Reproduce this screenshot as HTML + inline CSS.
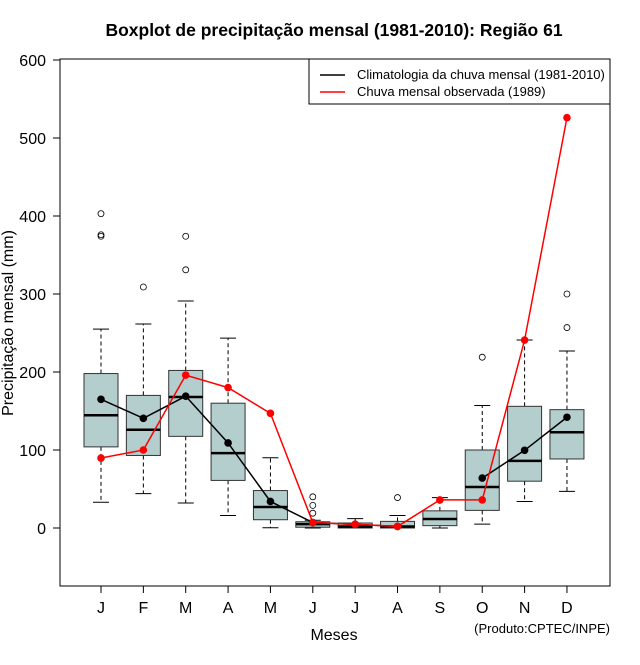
<!DOCTYPE html>
<html><head><meta charset="utf-8"><style>
body{margin:0;background:#fff;}
svg text{font-family:"Liberation Sans",Arial,sans-serif;}
</style></head><body>
<svg id="chart" width="640" height="660" xmlns="http://www.w3.org/2000/svg">
<text x="334" y="36" font-size="17.5" font-weight="bold" text-anchor="middle">Boxplot de precipitação mensal (1981-2010): Região 61</text>
<rect x="60" y="59" width="550" height="527" fill="none" stroke="#000" stroke-width="1"/>
<g id="yaxis"></g>
<g id="xaxis"></g>
<g id="boxes"></g>
<g id="lines"></g>
<text transform="translate(13,323) rotate(-90)" font-size="16" text-anchor="middle">Precipitação mensal (mm)</text>
<text x="334" y="640" font-size="16" text-anchor="middle">Meses</text>
<text x="610" y="633" font-size="13" text-anchor="end">(Produto:CPTEC/INPE)</text>
<g>
<rect x="309" y="59" width="301" height="45" fill="#fff" stroke="#000"/>
<line x1="320" y1="75" x2="345" y2="75" stroke="#000" stroke-width="1.5"/>
<text x="357" y="79" font-size="13">Climatologia da chuva mensal (1981-2010)</text>
<line x1="320" y1="92" x2="345" y2="92" stroke="#f00" stroke-width="1.5"/>
<text x="357" y="96" font-size="13">Chuva mensal observada (1989)</text>
</g>
</svg>
<script>
const months=["J","F","M","A","M","J","J","A","S","O","N","D"];
const q1=[104,93,117.5,61,10.6,1,0,0,3,22.6,60,88.5];
const med=[144.5,126,168,96,27,5,2,2,11.5,52.5,86,122.7];
const q3=[198,170,202,160,48,8,6.4,8.5,22,100,156,151.7];
const wlo=[33,44,32,16,0.4,0,0,0,0,5,34,47];
const whi=[255,261.5,291,243.5,90,10,12,16,39,157,241,227];
const outliers=[[403,376,374],[309],[374,331],[],[],[40,29,19],[],[39],[],[219],[],[300,257]];
const clim=[165,140.6,169,109,34,7,4.7,2,null,64,99.6,142];
const obs=[89.7,100,196,180,147,7,4.7,2,36,36,241,526];
const yTicks=[0,100,200,300,400,500,600];
const NS="http://www.w3.org/2000/svg";
function y(v){return 528-v*0.78;}
function x(i){return 101+i*42.36;}
function mk(tag,attrs,parent){const e=document.createElementNS(NS,tag);for(const k in attrs)e.setAttribute(k,attrs[k]);parent.appendChild(e);return e;}
const ya=document.getElementById('yaxis'),xa=document.getElementById('xaxis'),bx=document.getElementById('boxes'),ln=document.getElementById('lines');
mk('line',{x1:60,y1:y(0),x2:60,y2:y(600),stroke:'#000'},ya);
yTicks.forEach(t=>{
 const l=mk('line',{x1:53,y1:y(t),x2:60,y2:y(t),stroke:'#000'},ya);
 
 
 const tx=mk('text',{x:46,y:y(t)+6,'font-size':16,'text-anchor':'end'},ya);tx.textContent=t;
 
 
});
months.forEach((m,i)=>{
 mk('line',{x1:x(i),y1:586,x2:x(i),y2:593,stroke:'#000'},xa);
 const tx=mk('text',{x:x(i),y:613,'font-size':16,'text-anchor':'middle'},xa);tx.textContent=m;
 
 
 const g=mk('g',{},bx);
 
 
 const cx=x(i),hw=17;
 mk('line',{x1:cx,y1:y(q3[i]),x2:cx,y2:y(whi[i]),stroke:'#000','stroke-dasharray':'4,3'},g);
 mk('line',{x1:cx,y1:y(q1[i]),x2:cx,y2:y(wlo[i]),stroke:'#000','stroke-dasharray':'4,3'},g);
 mk('line',{x1:cx-8,y1:y(whi[i]),x2:cx+8,y2:y(whi[i]),stroke:'#000'},g);
 mk('line',{x1:cx-8,y1:y(wlo[i]),x2:cx+8,y2:y(wlo[i]),stroke:'#000'},g);
 mk('rect',{x:cx-hw,y:y(q3[i]),width:2*hw,height:Math.max(1,y(q1[i])-y(q3[i])),fill:'#b4cdcd',stroke:'#333'},g);
 mk('line',{x1:cx-hw,y1:y(med[i]),x2:cx+hw,y2:y(med[i]),stroke:'#000','stroke-width':2.5},g);
 outliers[i].forEach(o=>{mk('circle',{cx:cx,cy:y(o),r:3,fill:'none',stroke:'#000','stroke-width':0.8},g);});
});
function series(vals,color,name){
 const g=mk('g',{},ln);
 
 
 let d='',pen=false;
 vals.forEach((v,i)=>{if(v===null){pen=false;return;}d+=(pen?'L':'M')+x(i)+','+y(v)+' ';pen=true;});
 mk('path',{d:d,fill:'none',stroke:color,'stroke-width':1.5},g);
 vals.forEach((v,i)=>{if(v!==null)mk('circle',{cx:x(i),cy:y(v),r:3.8,fill:color},g);});
}
series(clim,'#000','climatology-series');
series(obs,'#f00','observed-1989-series');
</script>
</body></html>
